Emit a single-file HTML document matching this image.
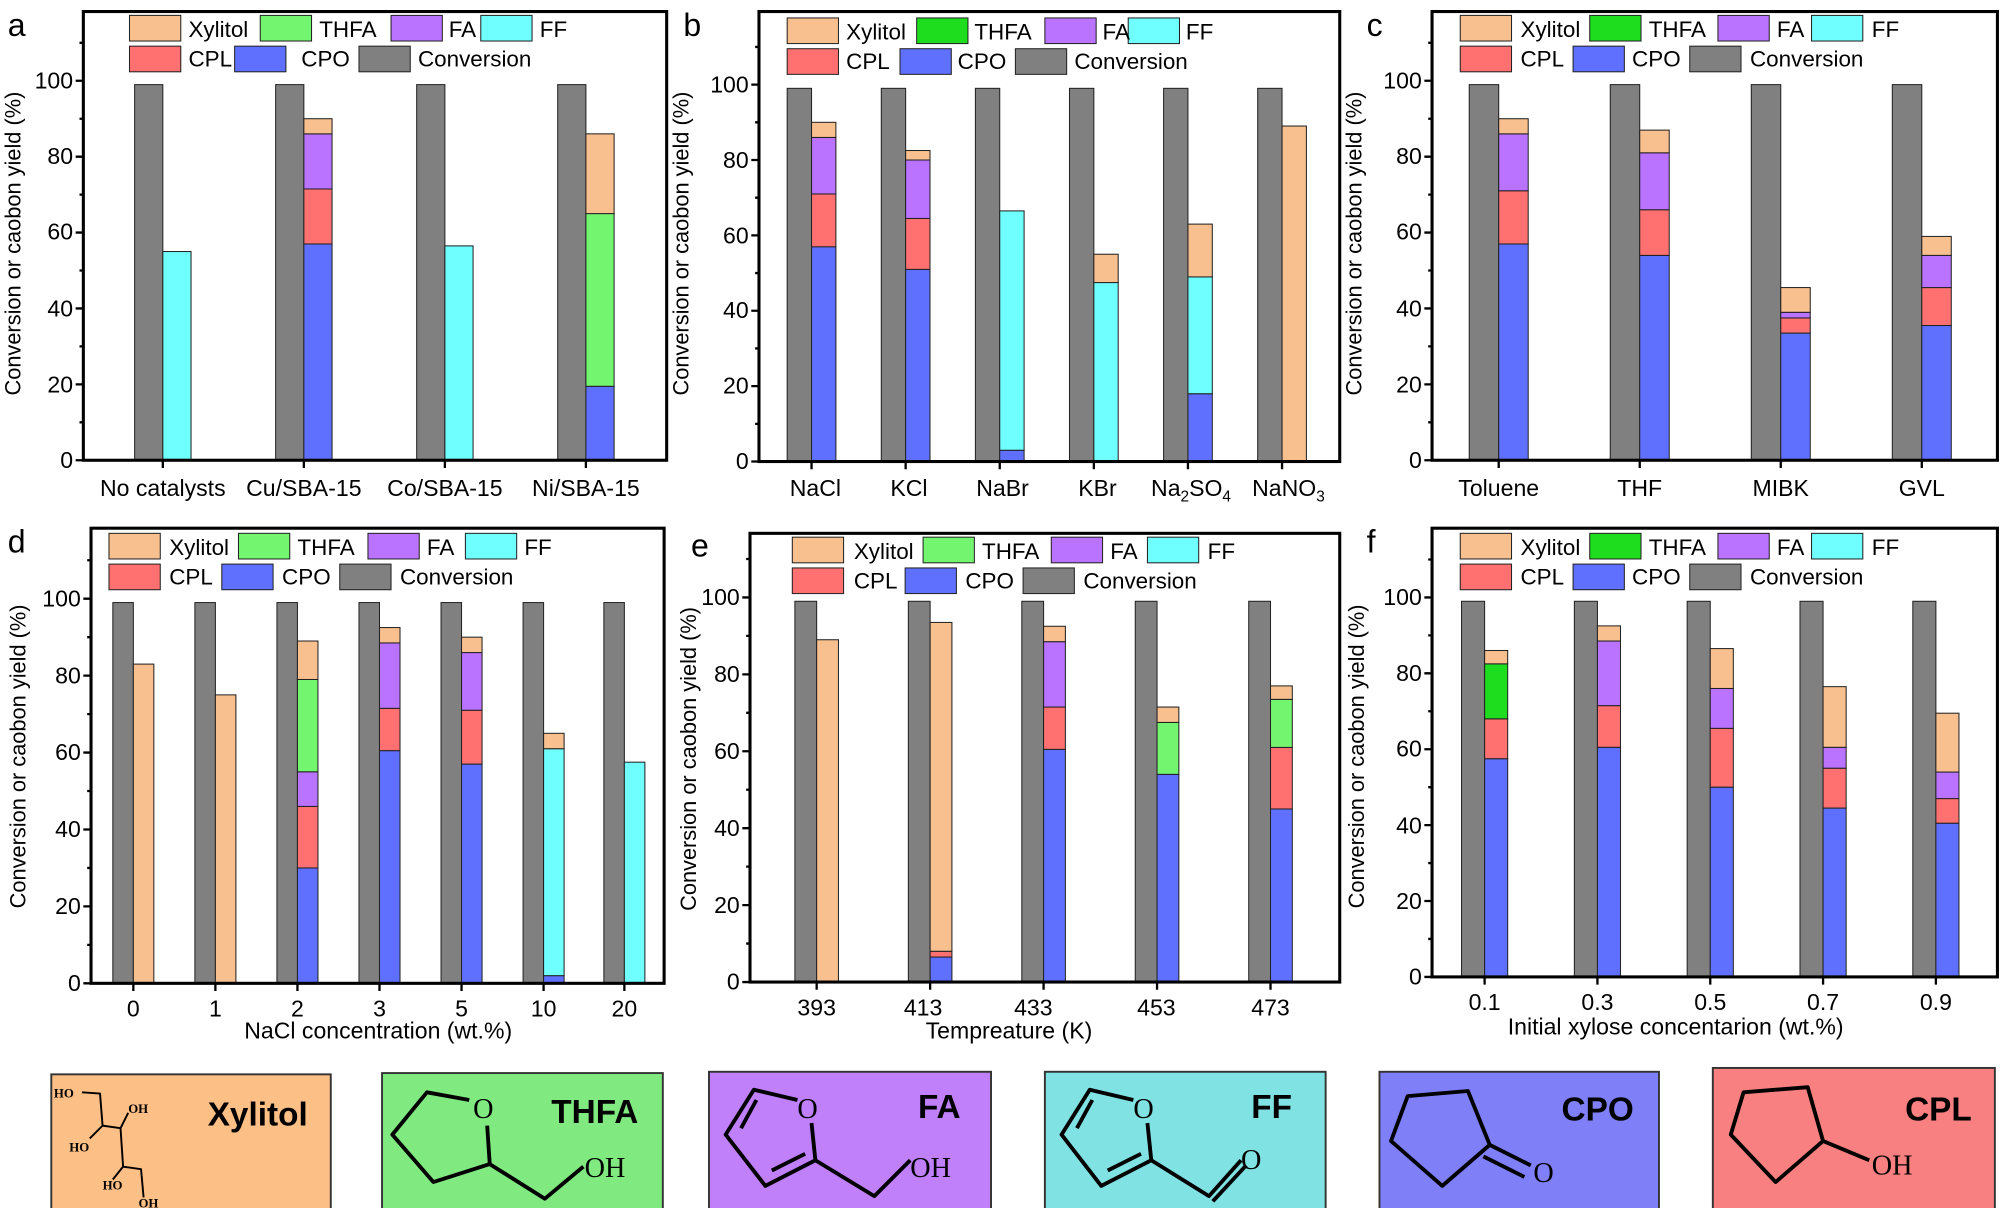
<!DOCTYPE html>
<html><head><meta charset="utf-8"><style>
html,body{margin:0;padding:0;background:#fff}
svg{display:block}
text{font-family:"Liberation Sans",Arial,sans-serif;fill:#000}
.t{font-size:18px}
.lg{font-size:17.5px}
.pl{font-size:25px}
.yl{font-size:17px}
.fr{fill:none;stroke:#000;stroke-width:2.4}
.tk{stroke:#000;stroke-width:1.8;fill:none}
.b rect{stroke:#222;stroke-width:0.8}
.X{fill:#f8bf8f}.T{fill:#74f56f}.T2{fill:#1edc1e}.F{fill:#b973ff}.FF{fill:#70ffff}.L{fill:#ff7070}.O{fill:#5f70ff}.C{fill:#808080}
.m{fill:none;stroke:#000;stroke-width:3;stroke-linejoin:round}
.mt{font-family:"Liberation Serif",serif;font-size:22px}
.mb{font-size:26px;font-weight:bold}
.xs{font-family:"Liberation Serif",serif;font-size:10px;font-weight:bold}
</style></head><body>
<svg width="2000" height="1208" viewBox="0 0 1560 942.25" xmlns="http://www.w3.org/2000/svg">

<!-- ============ PANEL A ============ -->
<text class="pl" x="6" y="28">a</text>
<text class="yl" transform="translate(16,190) rotate(-90)" text-anchor="middle">Conversion or caobon yield (%)</text>
<g class="b">
<rect class="C" x="105" y="66" width="22" height="293"/>
<rect class="FF" x="127" y="196.2" width="22" height="162.8"/>
<rect class="C" x="215" y="66" width="22" height="293"/>
<rect class="O" x="237" y="190.3" width="22" height="168.7"/>
<rect class="L" x="237" y="147.4" width="22" height="42.9"/>
<rect class="F" x="237" y="104.4" width="22" height="43"/>
<rect class="X" x="237" y="92.6" width="22" height="11.8"/>
<rect class="C" x="325" y="66" width="22" height="293"/>
<rect class="FF" x="347" y="191.8" width="22" height="167.2"/>
<rect class="C" x="435" y="66" width="22" height="293"/>
<rect class="O" x="457" y="301.3" width="22" height="57.7"/>
<rect class="T" x="457" y="166.6" width="22" height="134.7"/>
<rect class="X" x="457" y="104.4" width="22" height="62.2"/>
</g>
<rect class="fr" x="65" y="9" width="455" height="350"/>
<path class="tk" d="M65 359h-6M65 299.8h-6M65 240.6h-6M65 181.4h-6M65 122.2h-6M65 63h-6M65 329.4h-3M65 270.2h-3M65 211h-3M65 151.8h-3M65 92.6h-3M65 33.4h-3M127 359v6M237 359v6M347 359v6M457 359v6"/>
<g class="t" text-anchor="end"><text x="57" y="365">0</text><text x="57" y="306">20</text><text x="57" y="247">40</text><text x="57" y="187">60</text><text x="57" y="128">80</text><text x="57" y="69">100</text></g>
<g class="t" text-anchor="middle"><text x="127" y="387">No catalysts</text><text x="237" y="387">Cu/SBA-15</text><text x="347" y="387">Co/SBA-15</text><text x="457" y="387">Ni/SBA-15</text></g>
<g class="b"><rect class="X" x="101" y="12" width="40" height="20"/><rect class="T" x="203" y="12" width="40" height="20"/><rect class="F" x="305" y="12" width="40" height="20"/><rect class="FF" x="375" y="12" width="40" height="20"/>
<rect class="L" x="101" y="36" width="40" height="20"/><rect class="O" x="183" y="36" width="40" height="20"/><rect class="C" x="280" y="36" width="40" height="20"/></g>
<g class="lg"><text x="147" y="29">Xylitol</text><text x="249" y="29">THFA</text><text x="350" y="29">FA</text><text x="421" y="29">FF</text><text x="147" y="52">CPL</text><text x="235" y="52">CPO</text><text x="326" y="52">Conversion</text></g>

<!-- ============ PANEL B ============ -->
<text class="pl" x="533" y="28">b</text>
<text class="yl" transform="translate(537,190) rotate(-90)" text-anchor="middle">Conversion or caobon yield (%)</text>
<g class="b">
<rect class="C" x="614" y="68.9" width="19" height="291.1"/>
<rect class="O" x="633" y="192.4" width="19" height="167.6"/>
<rect class="L" x="633" y="151.3" width="19" height="41.2"/>
<rect class="F" x="633" y="107.2" width="19" height="44.1"/>
<rect class="X" x="633" y="95.4" width="19" height="11.8"/>
<rect class="C" x="687.4" y="68.9" width="19" height="291.1"/>
<rect class="O" x="706.4" y="210.1" width="19" height="149.9"/>
<rect class="L" x="706.4" y="170.4" width="19" height="39.7"/>
<rect class="F" x="706.4" y="124.8" width="19" height="45.6"/>
<rect class="X" x="706.4" y="117.4" width="19" height="7.4"/>
<rect class="C" x="760.8" y="68.9" width="19" height="291.1"/>
<rect class="O" x="779.8" y="351.2" width="19" height="8.8"/>
<rect class="FF" x="779.8" y="164.5" width="19" height="186.7"/>
<rect class="C" x="834.2" y="68.9" width="19" height="291.1"/>
<rect class="FF" x="853.2" y="220.4" width="19" height="139.6"/>
<rect class="X" x="853.2" y="198.3" width="19" height="22.1"/>
<rect class="C" x="907.6" y="68.9" width="19" height="291.1"/>
<rect class="O" x="926.6" y="307.1" width="19" height="52.9"/>
<rect class="FF" x="926.6" y="215.9" width="19" height="91.2"/>
<rect class="X" x="926.6" y="174.8" width="19" height="41.2"/>
<rect class="C" x="981" y="68.9" width="19" height="291.1"/>
<rect class="X" x="1000" y="98.3" width="19" height="261.7"/>
</g>
<rect class="fr" x="592" y="9" width="453" height="351"/>
<path class="tk" d="M592 360h-6M592 301.2h-6M592 242.4h-6M592 183.6h-6M592 124.8h-6M592 66h-6M592 330.6h-3M592 271.8h-3M592 213h-3M592 154.2h-3M592 95.4h-3M592 36.6h-3M633 360v6M706.4 360v6M779.8 360v6M853.2 360v6M926.6 360v6M1000 360v6"/>
<g class="t" text-anchor="end"><text x="584" y="366">0</text><text x="584" y="307">20</text><text x="584" y="248">40</text><text x="584" y="190">60</text><text x="584" y="131">80</text><text x="584" y="72">100</text></g>
<g class="t" text-anchor="middle"><text x="636" y="387">NaCl</text><text x="709" y="387">KCl</text><text x="782" y="387">NaBr</text><text x="856" y="387">KBr</text><text x="929" y="387">Na<tspan font-size="12" dy="4">2</tspan><tspan dy="-4">SO</tspan><tspan font-size="12" dy="4">4</tspan></text><text x="1005" y="387">NaNO<tspan font-size="12" dy="4">3</tspan></text></g>
<g class="b"><rect class="X" x="614" y="14" width="40" height="20"/><rect class="T2" x="715" y="14" width="40" height="20"/><rect class="F" x="815" y="14" width="40" height="20"/><rect class="FF" x="880" y="14" width="40" height="20"/>
<rect class="L" x="614" y="38" width="40" height="20"/><rect class="O" x="702" y="38" width="40" height="20"/><rect class="C" x="792" y="38" width="40" height="20"/></g>
<g class="lg"><text x="660" y="31">Xylitol</text><text x="760" y="31">THFA</text><text x="860" y="31">FA</text><text x="925" y="31">FF</text><text x="660" y="54">CPL</text><text x="747" y="54">CPO</text><text x="838" y="54">Conversion</text></g>

<!-- ============ PANEL C ============ -->
<text class="pl" x="1066" y="28">c</text>
<text class="yl" transform="translate(1062,190) rotate(-90)" text-anchor="middle">Conversion or caobon yield (%)</text>
<g class="b">
<rect class="C" x="1146" y="66" width="23" height="293"/>
<rect class="O" x="1169" y="190.3" width="23" height="168.7"/>
<rect class="L" x="1169" y="148.8" width="23" height="41.5"/>
<rect class="F" x="1169" y="104.4" width="23" height="44.4"/>
<rect class="X" x="1169" y="92.6" width="23" height="11.8"/>
<rect class="C" x="1256" y="66" width="23" height="293"/>
<rect class="O" x="1279" y="199.2" width="23" height="159.8"/>
<rect class="L" x="1279" y="163.6" width="23" height="35.6"/>
<rect class="F" x="1279" y="119.2" width="23" height="44.4"/>
<rect class="X" x="1279" y="101.5" width="23" height="17.7"/>
<rect class="C" x="1366" y="66" width="23" height="293"/>
<rect class="O" x="1389" y="259.8" width="23" height="99.2"/>
<rect class="L" x="1389" y="248" width="23" height="11.8"/>
<rect class="F" x="1389" y="243.6" width="23" height="4.4"/>
<rect class="X" x="1389" y="224.3" width="23" height="19.3"/>
<rect class="C" x="1476" y="66" width="23" height="293"/>
<rect class="O" x="1499" y="253.9" width="23" height="105.1"/>
<rect class="L" x="1499" y="224.3" width="23" height="29.6"/>
<rect class="F" x="1499" y="199.2" width="23" height="25.1"/>
<rect class="X" x="1499" y="184.4" width="23" height="14.8"/>
</g>
<rect class="fr" x="1117" y="9" width="441" height="350"/>
<path class="tk" d="M1117 359h-6M1117 299.8h-6M1117 240.6h-6M1117 181.4h-6M1117 122.2h-6M1117 63h-6M1117 329.4h-3M1117 270.2h-3M1117 211h-3M1117 151.8h-3M1117 92.6h-3M1117 33.4h-3M1169 359v6M1279 359v6M1389 359v6M1499 359v6"/>
<g class="t" text-anchor="end"><text x="1109" y="365">0</text><text x="1109" y="306">20</text><text x="1109" y="247">40</text><text x="1109" y="187">60</text><text x="1109" y="128">80</text><text x="1109" y="69">100</text></g>
<g class="t" text-anchor="middle"><text x="1169" y="387">Toluene</text><text x="1279" y="387">THF</text><text x="1389" y="387">MIBK</text><text x="1499" y="387">GVL</text></g>
<g class="b"><rect class="X" x="1139" y="12" width="40" height="20"/><rect class="T2" x="1240" y="12" width="40" height="20"/><rect class="F" x="1340" y="12" width="40" height="20"/><rect class="FF" x="1413" y="12" width="40" height="20"/>
<rect class="L" x="1139" y="36" width="40" height="20"/><rect class="O" x="1227" y="36" width="40" height="20"/><rect class="C" x="1318" y="36" width="40" height="20"/></g>
<g class="lg"><text x="1186" y="29">Xylitol</text><text x="1286" y="29">THFA</text><text x="1386" y="29">FA</text><text x="1460" y="29">FF</text><text x="1186" y="52">CPL</text><text x="1273" y="52">CPO</text><text x="1365" y="52">Conversion</text></g>

<!-- ============ PANEL D ============ -->
<text class="pl" x="6" y="431">d</text>
<text class="yl" transform="translate(20,590) rotate(-90)" text-anchor="middle">Conversion or caobon yield (%)</text>
<g class="b">
<rect class="C" x="88" y="470" width="16" height="297"/>
<rect class="X" x="104" y="518" width="16" height="249"/>
<rect class="C" x="152" y="470" width="16" height="297"/>
<rect class="X" x="168" y="542" width="16" height="225"/>
<rect class="C" x="216" y="470" width="16" height="297"/>
<rect class="O" x="232" y="677" width="16" height="90"/>
<rect class="L" x="232" y="629" width="16" height="48"/>
<rect class="F" x="232" y="602" width="16" height="27"/>
<rect class="T" x="232" y="530" width="16" height="72"/>
<rect class="X" x="232" y="500" width="16" height="30"/>
<rect class="C" x="280" y="470" width="16" height="297"/>
<rect class="O" x="296" y="585.5" width="16" height="181.5"/>
<rect class="L" x="296" y="552.5" width="16" height="33"/>
<rect class="F" x="296" y="501.5" width="16" height="51"/>
<rect class="X" x="296" y="489.5" width="16" height="12"/>
<rect class="C" x="344" y="470" width="16" height="297"/>
<rect class="O" x="360" y="596" width="16" height="171"/>
<rect class="L" x="360" y="554" width="16" height="42"/>
<rect class="F" x="360" y="509" width="16" height="45"/>
<rect class="X" x="360" y="497" width="16" height="12"/>
<rect class="C" x="408" y="470" width="16" height="297"/>
<rect class="O" x="424" y="761" width="16" height="6"/>
<rect class="FF" x="424" y="584" width="16" height="177"/>
<rect class="X" x="424" y="572" width="16" height="12"/>
<rect class="C" x="471" y="470" width="16" height="297"/>
<rect class="FF" x="487" y="594.5" width="16" height="172.5"/>
</g>
<rect class="fr" x="71" y="412" width="447" height="355"/>
<path class="tk" d="M71 767h-6M71 707h-6M71 647h-6M71 587h-6M71 527h-6M71 467h-6M71 737h-3M71 677h-3M71 617h-3M71 557h-3M71 497h-3M71 437h-3M104 767v6M168 767v6M232 767v6M296 767v6M360 767v6M424 767v6M487 767v6"/>
<g class="t" text-anchor="end"><text x="63" y="773">0</text><text x="63" y="713">20</text><text x="63" y="653">40</text><text x="63" y="593">60</text><text x="63" y="533">80</text><text x="63" y="473">100</text></g>
<g class="t" text-anchor="middle"><text x="104" y="793">0</text><text x="168" y="793">1</text><text x="232" y="793">2</text><text x="296" y="793">3</text><text x="360" y="793">5</text><text x="424" y="793">10</text><text x="487" y="793">20</text><text x="295" y="810">NaCl concentration (wt.%)</text></g>
<g class="b"><rect class="X" x="85" y="416" width="40" height="20"/><rect class="T" x="186" y="416" width="40" height="20"/><rect class="F" x="287" y="416" width="40" height="20"/><rect class="FF" x="363" y="416" width="40" height="20"/>
<rect class="L" x="85" y="440" width="40" height="20"/><rect class="O" x="173" y="440" width="40" height="20"/><rect class="C" x="265" y="440" width="40" height="20"/></g>
<g class="lg"><text x="132" y="433">Xylitol</text><text x="232" y="433">THFA</text><text x="333" y="433">FA</text><text x="409" y="433">FF</text><text x="132" y="456">CPL</text><text x="220" y="456">CPO</text><text x="312" y="456">Conversion</text></g>

<!-- ============ PANEL E ============ -->
<text class="pl" x="539" y="434">e</text>
<text class="yl" transform="translate(543,592) rotate(-90)" text-anchor="middle">Conversion or caobon yield (%)</text>
<g class="b">
<rect class="C" x="620" y="469" width="17" height="297"/>
<rect class="X" x="637" y="499" width="17" height="267"/>
<rect class="C" x="708.5" y="469" width="17" height="297"/>
<rect class="O" x="725.5" y="746.5" width="17" height="19.5"/>
<rect class="L" x="725.5" y="742" width="17" height="4.5"/>
<rect class="X" x="725.5" y="485.5" width="17" height="256.5"/>
<rect class="C" x="797" y="469" width="17" height="297"/>
<rect class="O" x="814" y="584.5" width="17" height="181.5"/>
<rect class="L" x="814" y="551.5" width="17" height="33"/>
<rect class="F" x="814" y="500.5" width="17" height="51"/>
<rect class="X" x="814" y="488.5" width="17" height="12"/>
<rect class="C" x="885.5" y="469" width="17" height="297"/>
<rect class="O" x="902.5" y="604" width="17" height="162"/>
<rect class="T" x="902.5" y="563.5" width="17" height="40.5"/>
<rect class="X" x="902.5" y="551.5" width="17" height="12"/>
<rect class="C" x="974" y="469" width="17" height="297"/>
<rect class="O" x="991" y="631" width="17" height="135"/>
<rect class="L" x="991" y="583" width="17" height="48"/>
<rect class="T" x="991" y="545.5" width="17" height="37.5"/>
<rect class="X" x="991" y="535" width="17" height="10.5"/>
</g>
<rect class="fr" x="585" y="416" width="460" height="350"/>
<path class="tk" d="M585 766h-6M585 706h-6M585 646h-6M585 586h-6M585 526h-6M585 466h-6M585 736h-3M585 676h-3M585 616h-3M585 556h-3M585 496h-3M585 436h-3M637 766v6M725.5 766v6M814 766v6M902.5 766v6M991 766v6"/>
<g class="t" text-anchor="end"><text x="577" y="772">0</text><text x="577" y="712">20</text><text x="577" y="652">40</text><text x="577" y="592">60</text><text x="577" y="532">80</text><text x="577" y="472">100</text></g>
<g class="t" text-anchor="middle"><text x="637" y="792">393</text><text x="720" y="792">413</text><text x="806" y="792">433</text><text x="902" y="792">453</text><text x="991" y="792">473</text><text x="787" y="810">Tempreature (K)</text></g>
<g class="b"><rect class="X" x="618" y="419" width="40" height="20"/><rect class="T" x="720" y="419" width="40" height="20"/><rect class="F" x="820" y="419" width="40" height="20"/><rect class="FF" x="895" y="419" width="40" height="20"/>
<rect class="L" x="618" y="443" width="40" height="20"/><rect class="O" x="706" y="443" width="40" height="20"/><rect class="C" x="798" y="443" width="40" height="20"/></g>
<g class="lg"><text x="666" y="436">Xylitol</text><text x="766" y="436">THFA</text><text x="866" y="436">FA</text><text x="942" y="436">FF</text><text x="666" y="459">CPL</text><text x="753" y="459">CPO</text><text x="845" y="459">Conversion</text></g>

<!-- ============ PANEL F ============ -->
<text class="pl" x="1066" y="431">f</text>
<text class="yl" transform="translate(1064,590) rotate(-90)" text-anchor="middle">Conversion or caobon yield (%)</text>
<g class="b">
<rect class="C" x="1140" y="469" width="18" height="293"/>
<rect class="O" x="1158" y="591.8" width="18" height="170.2"/>
<rect class="L" x="1158" y="560.7" width="18" height="31.1"/>
<rect class="T2" x="1158" y="517.8" width="18" height="42.9"/>
<rect class="X" x="1158" y="507.4" width="18" height="10.4"/>
<rect class="C" x="1228" y="469" width="18" height="293"/>
<rect class="O" x="1246" y="582.9" width="18" height="179.1"/>
<rect class="L" x="1246" y="550.4" width="18" height="32.5"/>
<rect class="F" x="1246" y="500" width="18" height="50.4"/>
<rect class="X" x="1246" y="488.2" width="18" height="11.8"/>
<rect class="C" x="1316" y="469" width="18" height="293"/>
<rect class="O" x="1334" y="614" width="18" height="148"/>
<rect class="L" x="1334" y="568.1" width="18" height="45.9"/>
<rect class="F" x="1334" y="537" width="18" height="31.1"/>
<rect class="X" x="1334" y="505.9" width="18" height="31.1"/>
<rect class="C" x="1404" y="469" width="18" height="293"/>
<rect class="O" x="1422" y="630.3" width="18" height="131.7"/>
<rect class="L" x="1422" y="599.2" width="18" height="31.1"/>
<rect class="F" x="1422" y="582.9" width="18" height="16.3"/>
<rect class="X" x="1422" y="535.6" width="18" height="47.3"/>
<rect class="C" x="1492" y="469" width="18" height="293"/>
<rect class="O" x="1510" y="642.1" width="18" height="119.9"/>
<rect class="L" x="1510" y="622.9" width="18" height="19.2"/>
<rect class="F" x="1510" y="602.2" width="18" height="20.7"/>
<rect class="X" x="1510" y="556.3" width="18" height="45.9"/>
</g>
<rect class="fr" x="1117" y="412" width="441" height="350"/>
<path class="tk" d="M1117 762h-6M1117 702.8h-6M1117 643.6h-6M1117 584.4h-6M1117 525.2h-6M1117 466h-6M1117 732.4h-3M1117 673.2h-3M1117 614h-3M1117 554.8h-3M1117 495.6h-3M1117 436.4h-3M1158 762v6M1246 762v6M1334 762v6M1422 762v6M1510 762v6"/>
<g class="t" text-anchor="end"><text x="1109" y="768">0</text><text x="1109" y="709">20</text><text x="1109" y="650">40</text><text x="1109" y="590">60</text><text x="1109" y="531">80</text><text x="1109" y="472">100</text></g>
<g class="t" text-anchor="middle"><text x="1158" y="788">0.1</text><text x="1246" y="788">0.3</text><text x="1334" y="788">0.5</text><text x="1422" y="788">0.7</text><text x="1510" y="788">0.9</text><text x="1307" y="807">Initial xylose concentarion (wt.%)</text></g>
<g class="b"><rect class="X" x="1139" y="416" width="40" height="20"/><rect class="T2" x="1240" y="416" width="40" height="20"/><rect class="F" x="1340" y="416" width="40" height="20"/><rect class="FF" x="1413" y="416" width="40" height="20"/>
<rect class="L" x="1139" y="440" width="40" height="20"/><rect class="O" x="1227" y="440" width="40" height="20"/><rect class="C" x="1318" y="440" width="40" height="20"/></g>
<g class="lg"><text x="1186" y="433">Xylitol</text><text x="1286" y="433">THFA</text><text x="1386" y="433">FA</text><text x="1460" y="433">FF</text><text x="1186" y="456">CPL</text><text x="1273" y="456">CPO</text><text x="1365" y="456">Conversion</text></g>

<!-- ============ MOLECULE BOXES ============ -->
<rect x="40" y="838" width="218" height="105" fill="#fcbf86" stroke="#333" stroke-width="1.5"/>
<path class="m" style="stroke-width:1.5" d="M64 852L78 853L80 878L94 880L96 910L110 912L112 934M94 880L100 868M80 878L70 888M96 910L88 920"/>
<text class="xs" x="42" y="856">HO</text>
<text class="xs" x="100" y="868">OH</text>
<text class="xs" x="54" y="898">HO</text>
<text class="xs" x="80" y="928">HO</text>
<text class="xs" x="108" y="942">OH</text>
<text class="mb" x="162" y="878">Xylitol</text>

<rect x="298" y="837" width="219" height="106" fill="#80ea80" stroke="#333" stroke-width="1.5"/>
<path class="m" d="M366 858L333 852L306 885L338 922L382 908L380 878M382 908L425 935L455 910"/>
<text class="mt" x="369" y="872">O</text><text class="mt" x="456" y="918">OH</text>
<text class="mb" x="430" y="876">THFA</text>

<rect x="553" y="836" width="220" height="107" fill="#c080fa" stroke="#333" stroke-width="1.5"/>
<path class="m" d="M622 858L588 850L566 885L597 925L636 905L633 876M578 880L590 858M602 913L628 900M636 905L682 933L710 905"/>
<text class="mt" x="622" y="872">O</text><text class="mt" x="710" y="918">OH</text>
<text class="mb" x="716" y="872">FA</text>

<rect x="815" y="836" width="219" height="107" fill="#80e2e2" stroke="#333" stroke-width="1.5"/>
<path class="m" d="M884 858L850 850L828 885L859 925L898 905L895 876M840 880L852 858M864 913L890 900M898 905L943 933L968 905M946 937L972 909"/>
<text class="mt" x="884" y="872">O</text><text class="mt" x="968" y="912">O</text>
<text class="mb" x="976" y="872">FF</text>

<rect x="1076" y="836" width="218" height="107" fill="#7f7ff7" stroke="#333" stroke-width="1.5"/>
<path class="m" d="M1098 855L1145 851L1162 893L1125 925L1085 890Z M1162 893L1194 909M1157 902L1189 918"/>
<text class="mt" x="1196" y="922">O</text>
<text class="mb" x="1218" y="874">CPO</text>

<rect x="1336" y="833" width="220" height="110" fill="#f88080" stroke="#333" stroke-width="1.5"/>
<path class="m" d="M1360 852L1410 848L1422 890L1385 922L1350 885Z M1422 890L1458 905"/>
<text class="mt" x="1460" y="916">OH</text>
<text class="mb" x="1486" y="874">CPL</text>
</svg>
</body></html>
